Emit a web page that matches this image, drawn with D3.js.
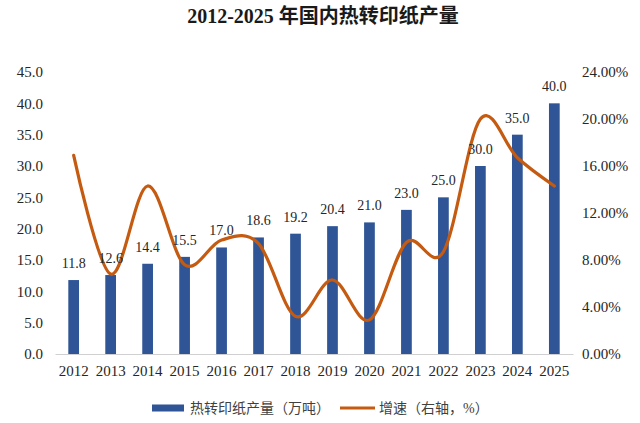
<!DOCTYPE html>
<html>
<head>
<meta charset="utf-8">
<script src="https://cdn.jsdelivr.net/npm/d3@7"></script>
<style>
  body { margin: 0; background: #fff; }
  text { font-family: "Liberation Serif", "Noto Sans CJK SC", serif; }
</style>
</head>
<body>
<script>
const years = ['2012', '2013', '2014', '2015', '2016', '2017', '2018', '2019', '2020', '2021', '2022', '2023', '2024', '2025'];
const output = [11.8, 12.6, 14.4, 15.5, 17.0, 18.6, 19.2, 20.4, 21.0, 23.0, 25.0, 30.0, 35.0, 40.0];
const growth = [16.9, 6.8, 14.3, 7.6, 9.7, 9.4, 3.2, 6.3, 2.9, 9.5, 8.7, 20.0, 16.7, 14.3];
const leftTicks = [0, 5, 10, 15, 20, 25, 30, 35, 40, 45];
const rightTicks = [0, 4, 8, 12, 16, 20, 24];

const w = 640,
  h = 423;
const plotLeft = 55, plotRight = 573, plotTop = 72, plotBottom = 354;

const svg = d3.select('body')
  .append('svg')
  .attr('width', w)
  .attr('height', h);

const xScale = d3.scaleBand()
  .domain(years)
  .range([plotLeft, plotRight])
  .paddingInner(0.71)
  .paddingOuter(0.36);

const yScale = d3.scaleLinear()
  .domain([0, 45])
  .range([plotBottom, plotTop]);

const y2Scale = d3.scaleLinear()
  .domain([0, 24])
  .range([plotBottom, plotTop]);

// title
svg.append('text')
  .attr('x', 323)
  .attr('y', 23)
  .attr('text-anchor', 'middle')
  .attr('font-size', 20)
  .attr('font-weight', 'bold')
  .attr('fill', '#1a1a1a')
  .text('2012-2025 年国内热转印纸产量');

// axes
const yAxis = d3.axisLeft(yScale)
  .tickValues(leftTicks)
  .tickSize(0)
  .tickPadding(12)
  .tickFormat(d3.format('.1f'));

const gy = svg.append('g')
  .attr('transform', `translate(${plotLeft}, 0)`)
  .call(yAxis);
gy.select('.domain').remove();

const y2Axis = d3.axisRight(y2Scale)
  .tickValues(rightTicks)
  .tickSize(0)
  .tickPadding(9)
  .tickFormat(d => d.toFixed(2) + '%');

const gy2 = svg.append('g')
  .attr('transform', `translate(${plotRight}, 0)`)
  .call(y2Axis);
gy2.select('.domain').remove();

const xAxis = d3.axisBottom(xScale)
  .tickSize(0)
  .tickPadding(11);

const gx = svg.append('g')
  .attr('transform', `translate(0, ${plotBottom})`)
  .call(xAxis);
gx.select('.domain').attr('stroke', '#d0d0d0');

svg.selectAll('.tick text')
  .attr('font-size', 15)
  .attr('fill', '#262626')
  .style('font-family', '"Liberation Serif", serif');

// bars
svg.selectAll('rect.bar')
  .data(output)
  .enter()
  .append('rect')
  .classed('bar', true)
  .attr('x', (d, i) => xScale(years[i]))
  .attr('y', d => yScale(d))
  .attr('width', xScale.bandwidth())
  .attr('height', d => plotBottom - yScale(d))
  .attr('fill', '#2F5597');

// line
const line = d3.line()
  .x((d, i) => xScale(years[i]) + xScale.bandwidth() / 2)
  .y(d => y2Scale(d))
  .curve(d3.curveCardinal);

svg.append('path')
  .datum(growth)
  .attr('d', line)
  .attr('fill', 'none')
  .attr('stroke', '#C55A11')
  .attr('stroke-width', 3.2)
  .attr('stroke-linecap', 'round');

// value labels
svg.selectAll('text.label')
  .data(output)
  .enter()
  .append('text')
  .classed('label', true)
  .attr('x', (d, i) => xScale(years[i]) + xScale.bandwidth() / 2)
  .attr('y', d => yScale(d) - 12)
  .attr('text-anchor', 'middle')
  .attr('font-size', 14)
  .attr('fill', '#262626')
  .text(d => d.toFixed(1));

// legend
const lg = svg.append('g').attr('transform', 'translate(0, 408)');
lg.append('rect')
  .attr('x', 152).attr('y', -3.5)
  .attr('width', 32).attr('height', 7)
  .attr('fill', '#2F5597');
lg.append('text')
  .attr('x', 190).attr('y', 5)
  .attr('font-size', 14)
  .attr('fill', '#404040')
  .text('热转印纸产量（万吨）');
lg.append('line')
  .attr('x1', 340).attr('x2', 375)
  .attr('y1', 0).attr('y2', 0)
  .attr('stroke', '#C55A11')
  .attr('stroke-width', 3);
lg.append('text')
  .attr('x', 379).attr('y', 5)
  .attr('font-size', 14)
  .attr('fill', '#404040')
  .text('增速（右轴，%）');
</script>
</body>
</html>
